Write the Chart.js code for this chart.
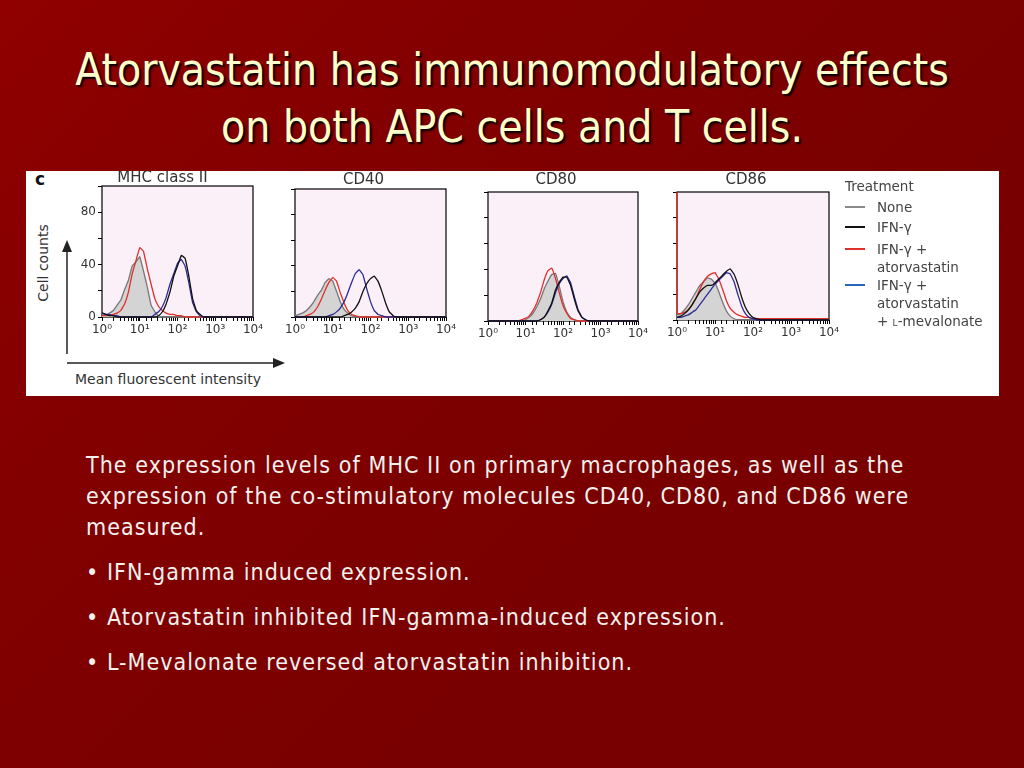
<!DOCTYPE html>
<html lang="en">
<head>
<meta charset="UTF-8">
<title>Atorvastatin immunomodulatory effects</title>
<script src="https://cdn.jsdelivr.net/npm/chart.js"></script>
<style>
* { margin: 0; padding: 0; box-sizing: border-box; }
body {
    width: 1024px; height: 768px; overflow: hidden; position: relative;
    background: linear-gradient(135deg, #900000 0%, #820000 30%, #7a0000 60%, #770000 100%);
    font-family: 'DejaVu Sans Condensed', 'DejaVu Sans', sans-serif;
}
.title {
    position: absolute; left: 0; top: 41px; width: 1024px; text-align: center;
    color: #ffffcc; font-size: 44px; line-height: 57px;
    text-shadow: 2px 2px 2px #000;
    font-family: 'DejaVu Sans Condensed', 'DejaVu Sans', sans-serif; font-stretch: condensed;
}
.panel { position: absolute; left: 26px; top: 171px; width: 973px; height: 225px; background: #fff; }
canvas { position: absolute; }
.lbl { position: absolute; font-family: 'DejaVu Sans', sans-serif; color: #333; white-space: nowrap; }
.legend { position: absolute; left: 845px; top: 177px; font-family: 'DejaVu Sans', sans-serif; color: #444; font-size: 13.5px; line-height: 18px; }
.legend .row { position: relative; padding-left: 32px; }
.legend .head { padding-left: 0; }
.legend .sw { position: absolute; left: 0; top: 8px; width: 20px; height: 2px; }
.body-text { position: absolute; left: 86px; top: 450px; width: 920px; color: #f4f0ee; font-size: 23px; letter-spacing: 1.05px;
    font-family: 'DejaVu Sans Condensed', 'DejaVu Sans', sans-serif; font-stretch: condensed; white-space: nowrap; }
.body-text p { line-height: 31px; }
.body-text .b { margin-top: 14px; }
</style>
</head>
<body>
<div class="title">Atorvastatin has immunomodulatory effects<br>on both APC cells and T cells.</div>
<div class="panel"></div>

<div class="lbl" style="left:35px;top:169px;font-size:17px;font-weight:bold;color:#111;">c</div>
<div class="lbl" style="left:43px;top:263px;font-size:14px;transform:translate(-50%,-50%) rotate(-90deg);">Cell counts</div>
<div class="lbl" style="left:75px;top:371px;font-size:14px;">Mean fluorescent intensity</div>
<svg style="position:absolute;left:0;top:0;" width="1024" height="400">
    <line x1="67" y1="354" x2="67" y2="250" stroke="#222" stroke-width="1.5"/>
    <polygon points="67,240 62,252 72,252" fill="#222"/>
    <line x1="67" y1="363" x2="274" y2="363" stroke="#222" stroke-width="1.5"/>
    <polygon points="285,363 273,358 273,368" fill="#222"/>
</svg>

<canvas id="mhc"></canvas>
<canvas id="cd40"></canvas>
<canvas id="cd80"></canvas>
<canvas id="cd86"></canvas>

<div class="legend">
    <div class="row head">Treatment</div>
    <div class="row" style="margin-top:3px;"><span class="sw" style="background:#8a8a8a"></span>None</div>
    <div class="row" style="margin-top:2px;"><span class="sw" style="background:#111"></span>IFN-γ</div>
    <div class="row" style="margin-top:4px;"><span class="sw" style="background:#e0302a"></span>IFN-γ +<br>atorvastatin</div>
    <div class="row" style="margin-top:0px;"><span class="sw" style="background:#2568b8"></span>IFN-γ +<br>atorvastatin<br>+ <span style="font-variant:small-caps">l</span>-mevalonate</div>
</div>

<div class="body-text">
    <p>The expression levels of MHC II on primary macrophages, as well as the<br>expression of the co-stimulatory molecules CD40, CD80, and CD86 were<br>measured.</p>
    <p class="b">• IFN-gamma induced expression.</p>
    <p class="b">• Atorvastatin inhibited IFN-gamma-induced expression.</p>
    <p class="b">• L-Mevalonate reversed atorvastatin inhibition.</p>
</div>

<script>
// fluorescence channels (0.1 decade bins, 10^0 .. 10^4)
const bins = [1, 1.26, 1.58, 2.0, 2.51, 3.16, 3.98, 5.01, 6.31, 7.94,
    10, 12.6, 15.8, 20.0, 25.1, 31.6, 39.8, 50.1, 63.1, 79.4,
    100, 126, 158, 200, 251, 316, 398, 501, 631, 794,
    1000, 1259, 1585, 1995, 2512, 3162, 3981, 5012, 6310, 7943, 10000];

const panelTitles = ['MHC class II', 'CD40', 'CD80', 'CD86'];
const seriesNames = ['None', 'IFN-γ', 'IFN-γ + atorvastatin', 'IFN-γ + atorvastatin + L-mevalonate'];
const yLabelTicks = [0, 40, 80];

// MHC class II
const mhcNone = [2,1,3,5,9,13,21,28,39,42, 46,35,23,9,4,1,0,0,0,0, 0,0,0,0,0,0,0,0,0,0, 0,0,0,0,0,0,0,0,0,0,0];
const mhcIfn  = [3,2,1,1,0,0,0,0,0,0, 0,0,0,0,0,1,4,10,19,31, 39,47,45,31,14,5,2,0,0,0, 0,0,0,0,0,0,0,0,0,0,0];
const mhcAtor = [1,1,1,2,3,5,10,19,33,43, 53,50,37,25,14,8,5,3,2,2, 1,1,0,0,0,0,0,0,0,0, 0,0,0,0,0,0,0,0,0,0,0];
const mhcMeva = [3,2,2,1,1,0,0,0,0,0, 0,0,0,0,2,4,8,15,25,33, 41,44,39,26,11,4,1,0,0,0, 0,0,0,0,0,0,0,0,0,0,0];

// CD40
const cd40None = [1,2,3,5,8,12,17,21,27,30, 28,20,12,6,3,1,0,0,0,0, 0,0,0,0,0,0,0,0,0,0, 0,0,0,0,0,0,0,0,0,0,0];
const cd40Ifn  = [0,0,0,0,0,0,0,0,0,0, 0,0,0,1,2,4,7,12,20,26, 30,32,28,20,11,4,1,0,0,0, 0,0,0,0,0,0,0,0,0,0,0];
const cd40Ator = [0,0,0,1,2,4,8,14,21,27, 31,28,19,11,5,2,1,0,0,0, 0,0,0,0,0,0,0,0,0,0, 0,0,0,0,0,0,0,0,0,0,0];
const cd40Meva = [0,0,0,0,0,0,0,0,0,1, 2,4,7,12,19,27,34,37,33,22, 12,5,2,1,0,0,0,0,0,0, 0,0,0,0,0,0,0,0,0,0,0];

// CD80
const cd80None = [0,0,0,0,0,0,0,0,0,0, 1,3,6,11,17,25,31,36,37,27, 15,7,3,1,0,0,0,0,0,0, 0,0,0,0,0,0,0,0,0,0,0];
const cd80Ifn  = [0,0,0,0,0,0,0,0,0,0, 0,0,0,0,1,3,8,14,24,30, 34,34,28,17,8,3,1,0,0,0, 0,0,0,0,0,0,0,0,0,0,0];
const cd80Ator = [0,0,0,0,0,0,0,0,0,1, 2,4,8,14,22,32,39,41,33,22, 12,6,2,1,0,0,0,0,0,0, 0,0,0,0,0,0,0,0,0,0,0];
const cd80Meva = [0,0,0,0,0,0,0,0,0,0, 0,0,0,0,1,3,7,13,22,29, 33,35,30,19,9,3,1,0,0,0, 0,0,0,0,0,0,0,0,0,0,0];

// CD86
const cd86None = [4,5,8,12,17,22,27,30,33,32, 29,22,14,7,3,1,0,0,0,0, 0,0,0,0,0,0,0,0,0,0, 0,0,0,0,0,0,0,0,0,0,0];
const cd86Ifn  = [2,3,5,8,12,17,22,25,27,27, 29,32,35,38,40,36,28,18,10,5, 2,1,0,0,0,0,0,0,0,0, 0,0,0,0,0,0,0,0,0,0,0];
const cd86Ator = [5,5,6,8,12,17,24,30,34,36, 37,32,24,15,9,6,4,3,2,2, 1,1,1,1,1,1,1,1,1,1, 1,1,1,1,1,1,1,1,1,1,1];
const cd86Meva = [2,2,3,4,6,8,12,16,20,24, 28,31,34,37,36,30,20,11,5,2, 1,0,0,0,0,0,0,0,0,0, 0,0,0,0,0,0,0,0,0,0,0];
const cd86AtorPileUp = 100; // events stacked in the first channel

const colNone = '#777777', fillNone = '#d4d4d4', colIfn = '#111111', colAtor = '#e0302a', colMeva = '#2c2c96';

const sup = ['⁰', '¹', '²', '³', '⁴'];

const framePlugin = {
    id: 'frame',
    beforeDraw(chart) {
        const a = chart.chartArea, ctx = chart.ctx;
        ctx.save();
        ctx.fillStyle = '#fcf0f8';
        ctx.fillRect(a.left, a.top, a.right - a.left, a.bottom - a.top);
        ctx.restore();
    },
    beforeDatasetsDraw(chart) {
        const a = chart.chartArea, ctx = chart.ctx;
        ctx.save();
        ctx.strokeStyle = '#000';
        ctx.lineWidth = 1.2;
        ctx.strokeRect(a.left, a.top, a.right - a.left, a.bottom - a.top);
        ctx.restore();
    }
};

function pts(values) {
    return values.map((v, i) => ({ x: bins[i], y: v }));
}

function makePanel(id, box, title, none, ifn, ator, meva, showY, pileUp) {
    const cv = document.getElementById(id);
    cv.width = box.w; cv.height = box.h;
    cv.style.left = box.x + 'px'; cv.style.top = box.y + 'px';
    const atorPts = pts(ator);
    if (pileUp !== undefined) atorPts.unshift({ x: bins[0], y: pileUp });
    const line = (label, data, color, order, extra) => Object.assign({
        label, data, borderColor: color, borderWidth: 1.3, pointRadius: 0, tension: 0.05,
        fill: false, order, clip: 2
    }, extra || {});
    new Chart(cv, {
        type: 'line',
        data: {
            datasets: [
                line(seriesNames[1], pts(ifn), colIfn, 1),
                line(seriesNames[3], pts(meva), colMeva, 2),
                line(seriesNames[2], atorPts, colAtor, 3),
                line(seriesNames[0], pts(none), colNone, 4, { fill: 'origin', backgroundColor: fillNone })
            ]
        },
        options: {
            responsive: false,
            animation: false,
            layout: { padding: { top: 0, right: box.pr, left: 0, bottom: 0 } },
            plugins: {
                legend: { display: false },
                tooltip: { enabled: false },
                title: {
                    display: true, text: title, color: '#333',
                    font: { size: 15, family: 'DejaVu Sans, sans-serif', weight: 'normal', lineHeight: box.lh },
                    padding: { top: 0, bottom: box.pb }
                }
            },
            scales: {
                x: {
                    type: 'logarithmic', min: 1, max: 10000,
                    border: { display: false },
                    grid: { display: true, drawOnChartArea: false, drawTicks: true, tickLength: 4, color: '#000' },
                    ticks: {
                        autoSkip: false, maxRotation: 0, padding: 2, color: '#333',
                        font: { size: 12, family: 'DejaVu Sans, sans-serif' },
                        callback: (v) => {
                            const e = Math.log10(v);
                            return Math.abs(e - Math.round(e)) < 1e-6 ? '10' + sup[Math.round(e)] : '';
                        }
                    },
                    afterFit: (s) => { s.height = 22; }
                },
                y: {
                    min: 0, max: 100,
                    border: { display: false },
                    grid: { display: true, drawOnChartArea: false, drawTicks: true, tickLength: 4, color: '#000' },
                    ticks: {
                        stepSize: 10, padding: 2, color: '#333',
                        font: { size: 12, family: 'DejaVu Sans, sans-serif' },
                        callback: (v) => (showY && yLabelTicks.includes(v)) ? String(v) : ''
                    },
                    afterFit: (s) => { s.width = box.wy; }
                }
            }
        },
        plugins: [framePlugin]
    });
}

makePanel('mhc',  { x: 72,  y: 171, w: 211, h: 168, pr: 30, wy: 30, lh: 1.0, pb: 0 }, panelTitles[0], mhcNone, mhcIfn, mhcAtor, mhcMeva, true);
makePanel('cd40', { x: 281, y: 171, w: 179, h: 168, pr: 14, wy: 14, lh: 1.2, pb: 0 }, panelTitles[1], cd40None, cd40Ifn, cd40Ator, cd40Meva, false);
makePanel('cd80', { x: 474, y: 171, w: 178, h: 172, pr: 14, wy: 14, lh: 1.2, pb: 3 }, panelTitles[2], cd80None, cd80Ifn, cd80Ator, cd80Meva, false);
makePanel('cd86', { x: 663, y: 171, w: 180, h: 171, pr: 14, wy: 14, lh: 1.2, pb: 3 }, panelTitles[3], cd86None, cd86Ifn, cd86Ator, cd86Meva, false, cd86AtorPileUp);
</script>
</body>
</html>
